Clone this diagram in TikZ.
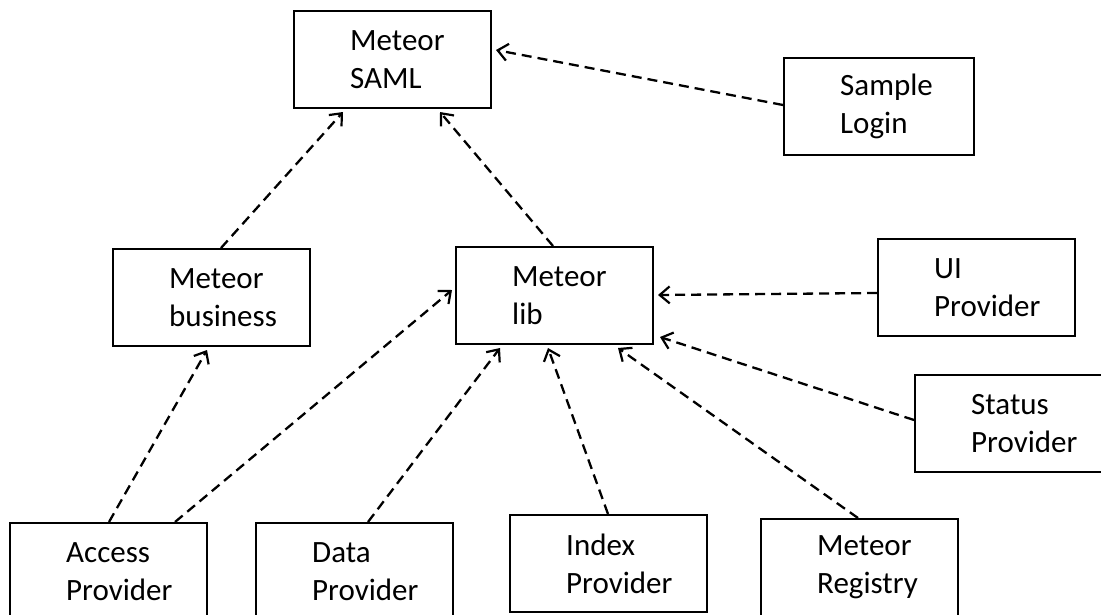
\documentclass[tikz,border=0pt]{standalone}
\usepackage{fontspec}
\setmainfont{Carlito}
\usetikzlibrary{arrows.meta}
\tikzstyle{box} = [draw, line width=2pt, anchor=north west, minimum width=197pt, minimum height=97pt, inner sep=0pt]
\tikzstyle{boxtext} = [anchor=west, align=left, xshift=57pt, inner sep=0pt, font=\fontsize{31}{38}\selectfont]
\tikzstyle{dep} = [line width=2.3pt, dash pattern=on 10pt off 6pt, -{Straight Barb[length=10pt,width=17pt,line width=2.2pt]}]

\begin{document}
\begin{tikzpicture}[x=1pt,y=-1pt]
		\useasboundingbox (0,0) rectangle (1101,614);
		% top
		\node[box, label={[boxtext]west:Meteor\\SAML}] (saml) at (293,10) {};
		\node[box, minimum width=190pt, label={[boxtext]west:Sample\\Login}] (login) at (783,57) {};
		% middle
		\node[box, label={[boxtext]west:Meteor\\business}] (business) at (112,248) {};
		\node[box, label={[boxtext]west:Meteor\\lib}] (lib) at (455,246) {};
		\node[box, label={[boxtext]west:UI\\Provider}] (ui) at (877,238) {};
		\node[box, minimum width=200pt, label={[boxtext]west:Status\\Provider}] (status) at (914,374) {};
		% bottom
		\node[box, label={[boxtext]west:Access\\Provider}] (access) at (9,522) {};
		\node[box, label={[boxtext]west:Data\\Provider}] (data) at (255,522) {};
		\node[box, label={[boxtext]west:Index\\Provider}] (index) at (509,514) {};
		\node[box, label={[boxtext]west:Meteor\\Registry}] (registry) at (760,518) {};
		% dependencies
		\draw[dep] ([yshift=-48pt]login.north west) -- ([xshift=4pt,yshift=-40pt]saml.north east);
		\draw[dep] ([xshift=109pt]business.north west) -- ([xshift=50pt,yshift=-3pt]saml.south west);
		\draw[dep] ([xshift=98pt]lib.north west) -- ([xshift=147pt,yshift=-3pt]saml.south west);
		\draw[dep] ([xshift=100pt]access.north west) -- ([xshift=95pt,yshift=-3pt]business.south west);
		\draw[dep] ([xshift=166pt]access.north west) -- ([xshift=-3pt,yshift=-44pt]lib.north west);
		\draw[dep] ([xshift=113pt]data.north west) -- ([xshift=45pt,yshift=-3pt]lib.south west);
		\draw[dep] ([xshift=99pt]index.north west) -- ([xshift=93pt,yshift=-3pt]lib.south west);
		\draw[dep] ([xshift=98pt]registry.north west) -- ([xshift=163pt,yshift=-3pt]lib.south west);
		\draw[dep] ([yshift=-55pt]ui.north west) -- ([xshift=4pt,yshift=-49pt]lib.north east);
		\draw[dep] ([yshift=-46pt]status.north west) -- ([xshift=6pt,yshift=8pt]lib.south east);
	\end{tikzpicture}
\end{document}
